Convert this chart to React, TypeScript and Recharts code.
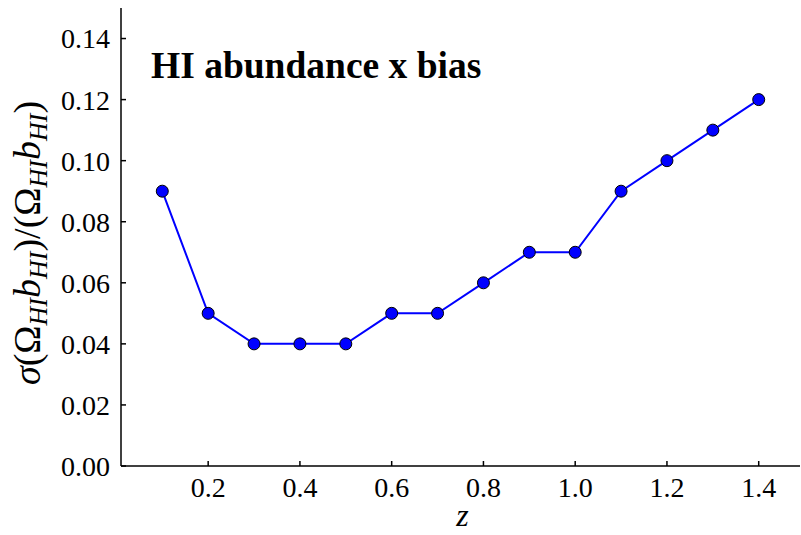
import { LineChart, Line, XAxis, YAxis } from "recharts";

const redshift = [0.1, 0.2, 0.3, 0.4, 0.5, 0.6, 0.7, 0.8, 0.9, 1.0, 1.1, 1.2, 1.3, 1.4];
const relError = [0.09, 0.05, 0.04, 0.04, 0.04, 0.05, 0.05, 0.06, 0.07, 0.07, 0.09, 0.1, 0.11, 0.12];
const xTicks = [0.2, 0.4, 0.6, 0.8, 1.0, 1.2, 1.4];
const yTicks = [0, 0.02, 0.04, 0.06, 0.08, 0.1, 0.12, 0.14];

const data = redshift.map((z, i) => ({ z, err: relError[i] }));

const FONT = "'Liberation Serif', 'DejaVu Serif', serif";
const tickStyle = { fontFamily: FONT, fontSize: 28, fill: "#000" };

function YLabel(props: any) {
  const vb = props.viewBox || { x: 0, y: 0, height: 0 };
  const cx = 40;
  const cy = vb.y + vb.height / 2 + 6;
  const sub = 26;
  return (
    <text
      x={cx}
      y={cy}
      transform={`rotate(-90, ${cx}, ${cy})`}
      textAnchor="middle"
      fontFamily={FONT}
      fontSize={38}
      fill="#000"
    >
      <tspan fontStyle="italic">σ</tspan>
      <tspan>(Ω</tspan>
      <tspan fontSize={sub} fontStyle="italic" dy={7}>HI</tspan>
      <tspan dy={-7} fontStyle="italic">b</tspan>
      <tspan fontSize={sub} fontStyle="italic" dy={7}>HI</tspan>
      <tspan dy={-7}>)/(Ω</tspan>
      <tspan fontSize={sub} fontStyle="italic" dy={7}>HI</tspan>
      <tspan dy={-7} fontStyle="italic">b</tspan>
      <tspan fontSize={sub} fontStyle="italic" dy={7}>HI</tspan>
      <tspan dy={-7}>)</tspan>
    </text>
  );
}

function XLabel(props: any) {
  const vb = props.viewBox || { x: 0, width: 0 };
  return (
    <text
      x={vb.x + vb.width / 2 + 2}
      y={526}
      textAnchor="middle"
      fontFamily={FONT}
      fontSize={32}
      fontStyle="italic"
      fill="#000"
    >
      z
    </text>
  );
}

export default function App() {
  return (
    <div style={{ position: "absolute", left: 0, top: 0, width: 801, height: 535, background: "#fff" }}>
      <LineChart width={801} height={535} data={data} margin={{ top: 8, right: 1, bottom: 0, left: 0 }}>
        <XAxis
          xAxisId="bottom"
          dataKey="z"
          type="number"
          domain={[0.01, 1.49]}
          ticks={xTicks}
          tickFormatter={(v: number) => v.toFixed(1)}
          height={69}
          tickSize={-5}
          tickMargin={16}
          tick={tickStyle}
          stroke="#000"
          strokeWidth={1.5}
          label={<XLabel />}
        />
        <XAxis
          xAxisId="top"
          orientation="top"
          dataKey="z"
          type="number"
          domain={[0.01, 1.49]}
          ticks={xTicks}
          tickFormatter={() => ""}
          height={0}
          tickSize={-5}
          stroke="#000"
          strokeWidth={1.5}
        />
        <YAxis
          yAxisId="left"
          type="number"
          domain={[0, 0.15]}
          ticks={yTicks}
          tickFormatter={(v: number) => v.toFixed(2)}
          width={121}
          tickSize={-5}
          tickMargin={16}
          tick={tickStyle}
          stroke="#000"
          strokeWidth={1.5}
          label={<YLabel />}
        />
        <YAxis
          yAxisId="right"
          orientation="right"
          type="number"
          domain={[0, 0.15]}
          ticks={yTicks}
          tickFormatter={() => ""}
          width={0}
          tickSize={-5}
          stroke="#000"
          strokeWidth={1.5}
        />
        <Line
          xAxisId="bottom"
          yAxisId="left"
          type="linear"
          dataKey="err"
          stroke="#0000ff"
          strokeWidth={2}
          dot={{ r: 6, fill: "#0000ff", stroke: "#000", strokeWidth: 1 }}
          isAnimationActive={false}
        />
      </LineChart>
      <div
        style={{
          position: "absolute",
          left: 151,
          top: 47,
          fontFamily: FONT,
          fontWeight: "bold",
          fontSize: 37.5,
          lineHeight: 1,
          color: "#000",
          whiteSpace: "nowrap",
        }}
      >
        HI abundance x bias
      </div>
    </div>
  );
}
